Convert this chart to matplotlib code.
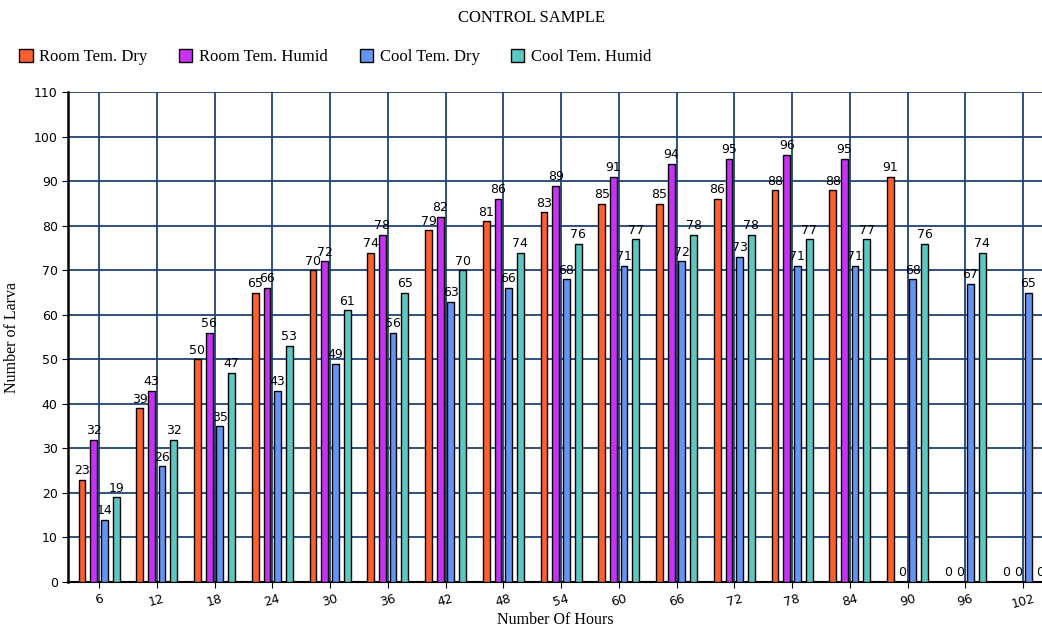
import numpy as np
import matplotlib.pyplot as plt

hours = [6, 12, 18, 24, 30, 36, 42, 48, 54, 60, 66, 72, 78, 84, 90, 96, 102]
room_dry = [23, 39, 50, 65, 70, 74, 79, 81, 83, 85, 85, 86, 88, 88, 91, 0, 0]
room_humid = [32, 43, 56, 66, 72, 78, 82, 86, 89, 91, 94, 95, 96, 95, 0, 0, 0]
cool_dry = [14, 26, 35, 43, 49, 56, 63, 66, 68, 71, 72, 73, 71, 71, 68, 67, 65]
cool_humid = [19, 32, 47, 53, 61, 65, 70, 74, 76, 77, 78, 78, 77, 77, 76, 74, 0]

series = [
    ('Room Tem. Dry', room_dry, '#ff5f2e'),
    ('Room Tem. Humid', room_humid, '#c832f5'),
    ('Cool Tem. Dry', cool_dry, '#6495f5'),
    ('Cool Tem. Humid', cool_humid, '#5cc8c0'),
]

serif = 'Liberation Serif'
fig = plt.figure(figsize=(10.42, 6.27), dpi=100)
ax = fig.add_axes([0.0653, 0.0718, 0.9347, 0.781])

x = np.array(hours, dtype=float)
offsets = [-1.77, -0.55, 0.54, 1.77]
width = 0.72
handles = []
for (name, vals, col), off in zip(series, offsets):
    bars = ax.bar(x + off, vals, width=width, color=col, edgecolor='black',
                  linewidth=1.0, zorder=3, label=name)
    handles.append(bars)
    for xi, v in zip(x + off, vals):
        ax.text(xi, v + 0.6, str(v), ha='center', va='bottom', fontsize=9,
                color='black', zorder=4)

ax.set_xlim(2.78, 103.97)
ax.set_ylim(0, 110)
ax.set_yticks(range(0, 111, 10))
ax.set_xticks(hours)
ax.set_xticklabels([str(h) for h in hours], rotation=15, fontsize=9)
ax.tick_params(axis='y', labelsize=9, length=4)
ax.tick_params(axis='x', length=4)
ax.grid(True, color='#1f4274', linewidth=1.3, zorder=0)
ax.set_axisbelow(True)
for s in ['top', 'right']:
    ax.spines[s].set_visible(False)
ax.spines['left'].set_linewidth(1.8)
ax.spines['bottom'].set_linewidth(1.5)

ax.set_xlabel('Number Of Hours', fontfamily=serif, fontsize=11.5, labelpad=1)
ax.set_ylabel('Number of Larva', fontfamily=serif, fontsize=11.5, labelpad=10)

fig.text(0.51, 0.972, 'CONTROL SAMPLE', ha='center', va='center',
         fontfamily=serif, fontsize=12)
fig.legend(handles=handles, loc='center left', bbox_to_anchor=(0.004, 0.909),
           ncol=4, frameon=False, prop={'family': serif, 'size': 12},
           handlelength=0.8, handleheight=0.8, handletextpad=0.4,
           columnspacing=1.9)

fig.savefig('out.png', dpi=100)
